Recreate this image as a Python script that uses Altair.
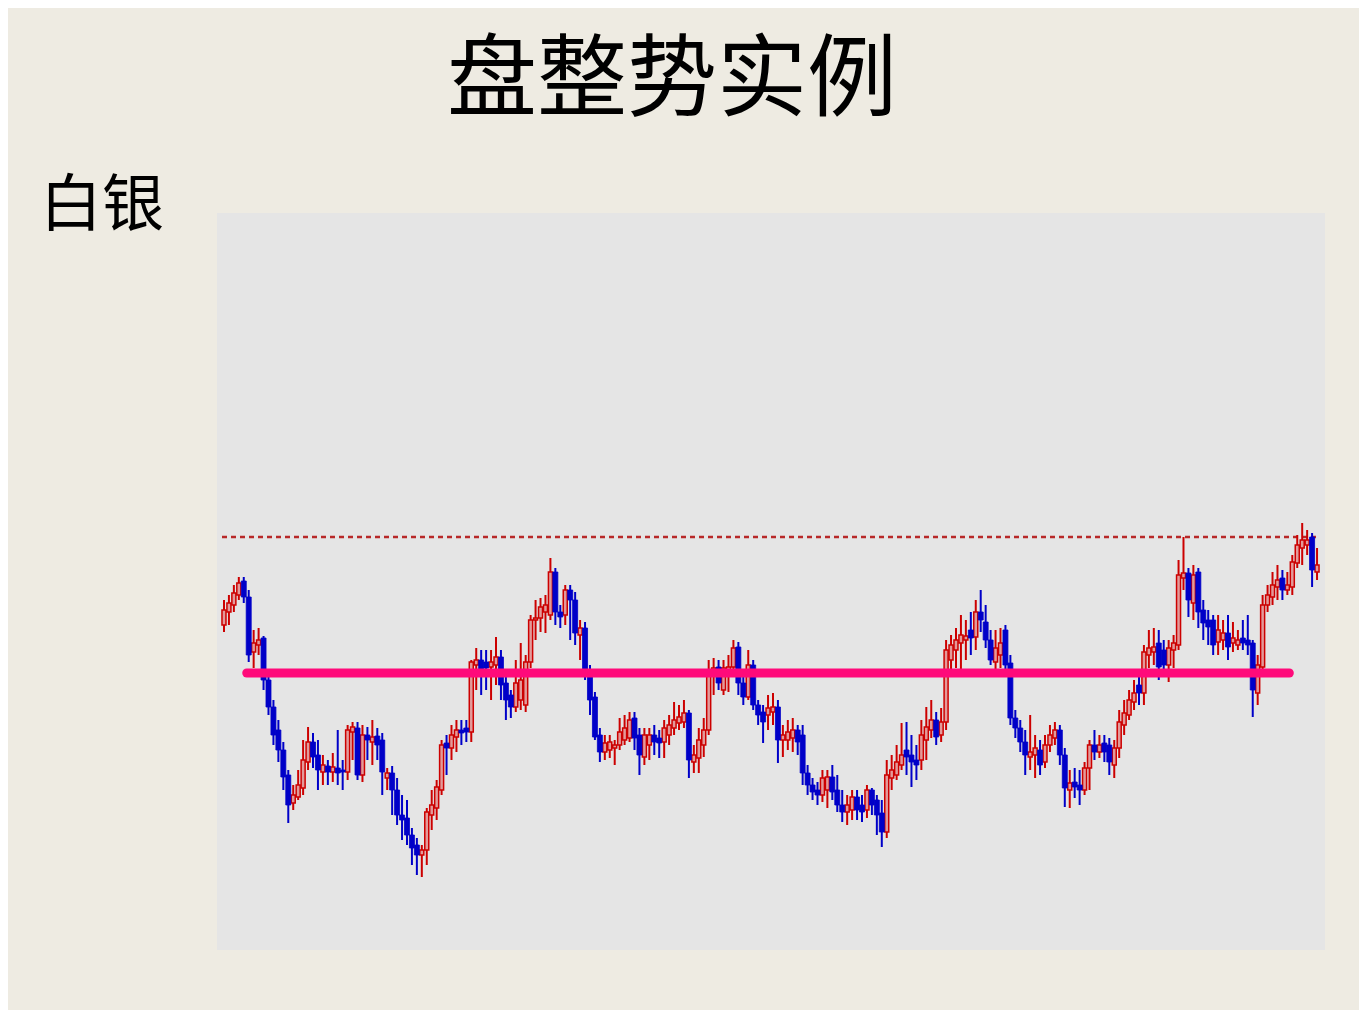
import altair as alt
import pandas as pd

TITLE = "盘整势实例"
LABEL = "白银"

opens = [
375,388,395,405,419,403,348,355,362,320,
293,270,250,225,197,203,212,238,258,245,
228,234,228,232,230,228,268,272,225,265,
258,264,260,222,227,210,185,182,165,155,
145,150,185,192,210,257,252,263,270,272,
268,335,340,338,333,335,343,317,305,293,
300,295,338,380,382,388,385,428,388,385,
410,400,365,372,330,303,265,248,250,252,
255,260,262,282,265,243,255,265,262,258,
265,272,277,278,287,238,242,255,270,325,
333,310,325,333,353,317,303,335,295,288,
285,288,293,260,260,262,270,265,227,215,
210,205,210,223,210,195,188,190,203,195,
190,210,200,187,168,222,225,235,250,245,
240,240,260,270,280,265,278,340,350,357,
360,370,363,388,378,360,338,345,370,337,
282,272,258,243,245,250,238,255,262,270,
245,210,218,215,210,232,255,248,257,255,
235,252,275,285,298,315,307,345,348,357,
350,335,350,355,422,427,397,428,390,380,
380,358,360,367,357,355,362,360,357,307,
333,395,403,413,422,410,413,437,452,455,
463,428]

closes = [
390,397,407,417,403,345,357,360,320,293,
265,250,223,195,205,215,240,258,243,230,
235,228,233,227,228,270,273,225,265,260,
263,255,228,227,210,185,180,165,152,145,
150,188,195,213,255,252,265,270,267,268,
338,340,330,332,338,343,315,300,293,317,
320,338,380,382,393,395,428,388,383,410,
400,367,372,330,300,263,248,257,258,255,
268,272,280,262,245,265,265,258,257,272,
275,280,283,287,240,245,260,270,330,332,
317,332,333,352,317,303,335,295,285,278,
292,293,260,265,268,270,258,227,215,208,
205,222,223,208,195,188,195,203,190,188,
210,195,185,168,225,230,238,245,243,238,
235,265,273,280,263,278,350,355,360,365,
364,362,388,380,360,340,352,357,335,282,
272,258,245,248,252,235,255,265,270,245,
212,217,213,210,232,255,248,255,248,238,
252,278,287,300,307,307,348,352,353,333,
335,352,357,425,427,400,425,388,377,373,
355,370,367,353,362,360,357,355,310,335,
395,405,415,420,410,415,438,455,460,460,
430,435]

highs = [
400,405,415,423,423,410,370,372,364,328,
300,280,258,230,215,230,260,273,267,260,
245,240,247,270,240,275,278,278,275,273,
280,272,267,232,234,222,205,200,172,162,
155,192,210,220,260,265,275,280,280,280,
340,352,350,350,350,363,350,330,310,340,
357,345,385,400,402,405,442,432,395,415,
415,408,380,378,335,308,272,265,265,260,
282,285,288,288,272,272,272,275,270,280,
285,298,295,300,290,255,272,282,340,342,
340,340,345,360,358,325,350,340,300,295,
305,307,300,275,280,282,275,275,235,222,
218,230,230,235,225,210,205,210,210,205,
215,212,205,200,240,245,255,277,278,265,
255,280,293,300,288,292,360,365,372,385,
380,388,400,410,395,370,370,372,375,345,
290,280,270,285,265,260,265,275,278,275,
252,230,232,230,238,260,270,265,265,262,
260,290,300,310,320,325,355,370,372,370,
360,360,365,440,463,432,435,432,400,390,
385,385,380,385,378,370,380,385,360,345,
405,415,428,435,430,428,445,465,477,470,
467,452]

lows = [
368,375,388,400,397,338,332,345,310,285,
255,238,210,177,190,200,205,230,232,210,
215,215,218,215,210,220,240,220,218,240,
235,240,205,210,185,175,160,155,135,125,
123,135,170,180,205,225,240,248,255,258,
258,310,305,310,300,315,300,280,282,288,
290,288,332,360,368,367,380,375,372,375,
360,355,340,320,285,260,238,240,242,235,
250,255,258,250,225,235,240,245,242,242,
255,265,270,272,222,227,227,243,265,305,
310,305,308,330,305,295,300,290,275,257,
270,275,237,243,250,248,245,215,205,200,
195,198,192,200,188,178,175,180,180,178,
182,185,165,153,162,210,220,230,225,213,
220,230,240,262,255,258,270,328,332,330,
340,345,350,368,352,335,330,332,325,275,
262,248,225,230,222,225,232,248,255,235,
193,192,202,195,205,210,240,242,238,225,
222,242,265,280,290,295,295,332,335,320,
328,318,332,350,410,383,380,372,360,355,
345,345,350,340,348,350,350,345,283,295,
328,388,395,400,400,405,405,432,435,445,
413,420]

support_level = 327
support_start, support_end = 4.6, 215.4
resistance_level = 463
x_domain = [-0.4, 221.6]
y_domain = [50, 787]

df = pd.DataFrame({"i": list(range(len(opens))), "open": opens, "close": closes,
                   "high": highs, "low": lows})
df["up"] = df["close"] >= df["open"]

RED = "#cc0000"
BLUE = "#0000c8"

xs = alt.Scale(domain=x_domain, nice=False, zero=False)
ys = alt.Scale(domain=y_domain, nice=False, zero=False)

base = alt.Chart(df)
X = alt.X("i:Q", scale=xs, axis=None)

wick = base.mark_rule(strokeWidth=2).encode(
    x=X,
    y=alt.Y("low:Q", scale=ys, axis=None),
    y2="high:Q",
    color=alt.Color("up:N", scale=alt.Scale(domain=[True, False], range=[RED, BLUE]), legend=None),
)

body_up = base.transform_filter("datum.up").mark_bar(
    width=4, fill="#e39a9a", stroke=RED, strokeWidth=1.5
).encode(x=X, y=alt.Y("open:Q", scale=ys, axis=None), y2="close:Q")

body_dn = base.transform_filter("!datum.up").mark_bar(
    width=5, fill=BLUE, stroke=BLUE, strokeWidth=0.8
).encode(x=X, y=alt.Y("open:Q", scale=ys, axis=None), y2="close:Q")

res_df = pd.DataFrame({"x0": [x_domain[0]], "x1": [x_domain[1]], "lvl": [resistance_level]})
resistance = alt.Chart(res_df).mark_rule(
    color="#b82828", strokeWidth=2.5, strokeDash=[5, 4]
).encode(x=alt.X("x0:Q", scale=xs, axis=None), x2="x1:Q",
         y=alt.Y("lvl:Q", scale=ys, axis=None))

sup_df = pd.DataFrame({"x0": [support_start], "x1": [support_end], "lvl": [support_level]})
support = alt.Chart(sup_df).mark_rule(
    color="#ff0a7a", strokeWidth=9, strokeCap="round"
).encode(x=alt.X("x0:Q", scale=xs, axis=None), x2="x1:Q",
         y=alt.Y("lvl:Q", scale=ys, axis=None))

title = alt.Chart(pd.DataFrame({"t": [TITLE]})).mark_text(
    font="Noto Sans CJK SC", fontSize=90, color="#000000", align="center", baseline="middle"
).encode(text="t:N", x=alt.value(455), y=alt.value(-131))

label = alt.Chart(pd.DataFrame({"t": [LABEL]})).mark_text(
    font="Noto Sans CJK SC", fontSize=62, color="#000000", align="left", baseline="middle"
).encode(text="t:N", x=alt.value(-177), y=alt.value(-6))

chart = alt.layer(resistance, wick, body_up, body_dn, support, title, label).properties(
    width=1108, height=737,
    padding={"left": 209, "top": 205, "right": 34, "bottom": 60},
    autosize=alt.AutoSizeParams(type="none"),
    background="#eeebe2",
).configure_view(fill="#e5e5e5", stroke=None)

chart.save("out.html", embed_options={"renderer": "svg", "actions": False})
